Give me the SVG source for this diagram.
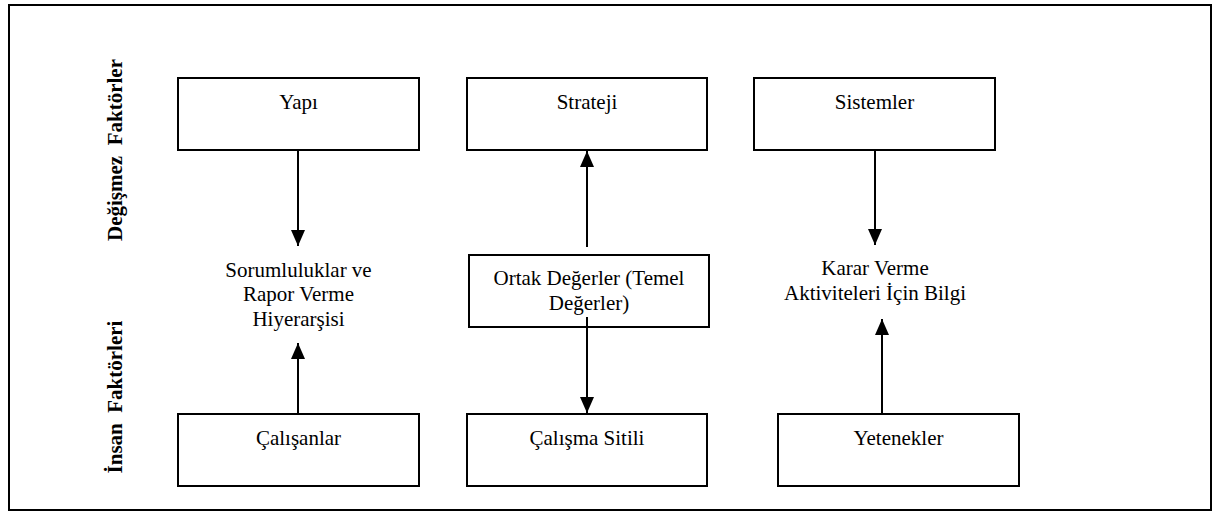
<svg xmlns="http://www.w3.org/2000/svg" width="1217" height="512" viewBox="0 0 1217 512">
  <style>
    .box { fill: #ffffff; stroke: #000000; stroke-width: 2; }
    .frame { fill: #ffffff; stroke: #000000; stroke-width: 2; }
    .lbl { font-family: "Liberation Serif", "Times New Roman", serif; font-size: 21px; fill: #000000; text-anchor: middle; }
    .side { font-family: "Liberation Serif", "Times New Roman", serif; font-size: 21px; font-weight: bold; fill: #000000; text-anchor: middle; white-space: pre; }
    .link { stroke: #000000; stroke-width: 2; fill: none; marker-end: url(#head); }
  </style>
  <defs>
    <marker id="head" markerUnits="userSpaceOnUse" markerWidth="16" markerHeight="14" refX="16" refY="7" orient="auto" viewBox="0 0 16 14">
      <path d="M0,0 L16,7 L0,14 Z" fill="#000000"/>
    </marker>
  </defs>

  <!-- outer frame -->
  <rect class="frame" x="9" y="5" width="1202" height="505"/>

  <!-- row labels -->
  <g id="label-degismez">
    <text class="side" transform="translate(122,150) rotate(-90)" xml:space="preserve">Değişmez  Faktörler</text>
  </g>
  <g id="label-insan">
    <text class="side" transform="translate(122,397) rotate(-90)" xml:space="preserve">İnsan  Faktörleri</text>
  </g>

  <!-- top row -->
  <g id="yapi">
    <rect class="box" x="178" y="78" width="241" height="72"/>
    <text class="lbl" x="298.5" y="109">Yapı</text>
  </g>
  <g id="strateji">
    <rect class="box" x="467" y="78" width="240" height="72"/>
    <text class="lbl" x="587" y="109">Strateji</text>
  </g>
  <g id="sistemler">
    <rect class="box" x="754" y="78" width="241" height="72"/>
    <text class="lbl" x="874.5" y="109">Sistemler</text>
  </g>

  <!-- middle row -->
  <g id="sorumluluklar">
    <text class="lbl" x="298.5" y="277">Sorumluluklar ve</text>
    <text class="lbl" x="298.5" y="301">Rapor Verme</text>
    <text class="lbl" x="298.5" y="326">Hiyerarşisi</text>
  </g>
  <g id="ortak-degerler">
    <rect class="box" x="469" y="255" width="240" height="72"/>
    <text class="lbl" x="589" y="285">Ortak Değerler (Temel</text>
    <text class="lbl" x="589" y="310">Değerler)</text>
  </g>
  <g id="karar-verme">
    <text class="lbl" x="875" y="275">Karar Verme</text>
    <text class="lbl" x="875" y="300">Aktiviteleri İçin Bilgi</text>
  </g>

  <!-- bottom row -->
  <g id="calisanlar">
    <rect class="box" x="178" y="414" width="241" height="72"/>
    <text class="lbl" x="298.5" y="445">Çalışanlar</text>
  </g>
  <g id="calisma-sitili">
    <rect class="box" x="467" y="414" width="240" height="72"/>
    <text class="lbl" x="587" y="445">Çalışma Sitili</text>
  </g>
  <g id="yetenekler">
    <rect class="box" x="778" y="414" width="241" height="72"/>
    <text class="lbl" x="898.5" y="445">Yetenekler</text>
  </g>

  <!-- connectors -->
  <g id="connectors">
    <line class="link" x1="298" y1="151" x2="298" y2="246"/>
    <line class="link" x1="298" y1="413" x2="298" y2="343"/>
    <line class="link" x1="587" y1="247" x2="587" y2="151"/>
    <line class="link" x1="587" y1="317" x2="587" y2="413"/>
    <line class="link" x1="875" y1="151" x2="875" y2="245"/>
    <line class="link" x1="882" y1="413" x2="882" y2="319"/>
  </g>
</svg>
